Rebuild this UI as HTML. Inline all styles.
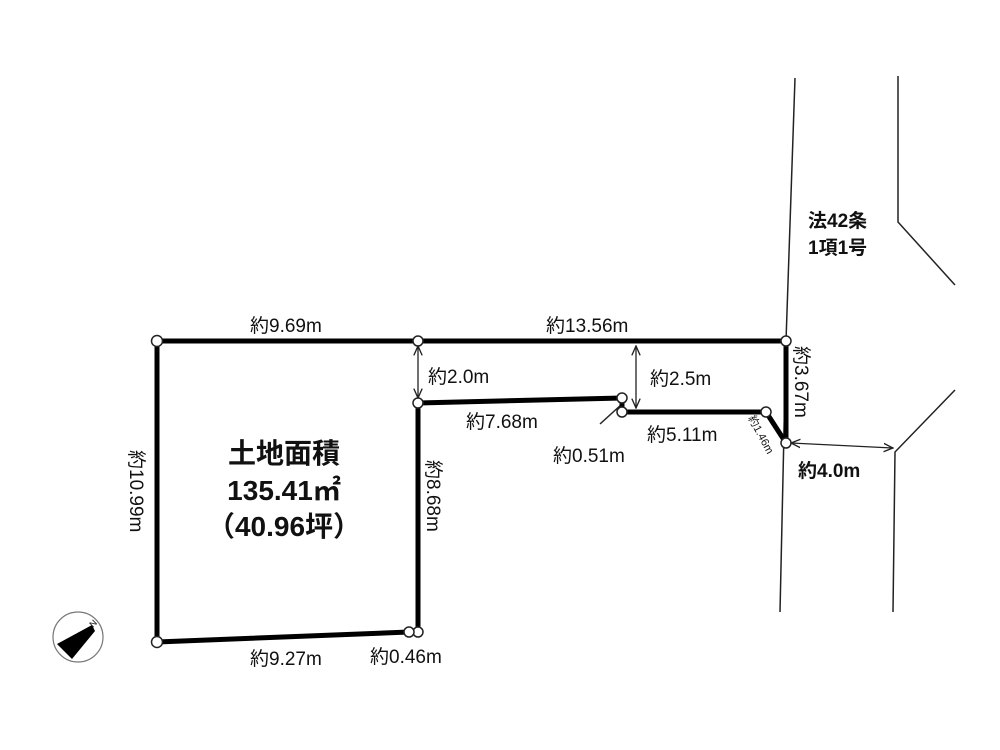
<!DOCTYPE html>
<html><head><meta charset="utf-8"><style>
html,body{margin:0;padding:0;background:#fff;width:1000px;height:750px;overflow:hidden}
text{font-family:"Liberation Sans","Noto Sans CJK JP",sans-serif;fill:#111}
</style></head><body>
<svg width="1000" height="750" viewBox="0 0 1000 750">
<defs><marker id="a" viewBox="0 0 10 10" refX="9" refY="5" markerWidth="8" markerHeight="8" orient="auto-start-reverse"><path d="M0,1 L9,5 L0,9" fill="none" stroke="#222" stroke-width="1.3"/></marker></defs>
<g stroke="#222" stroke-width="1.5" fill="none">
<path d="M795,78 L786,341 L780,612"/>
<path d="M898,76 L898,222 L955,285"/>
<path d="M955,390 L895,452 L893,612"/>
<path d="M622,404 L600,424"/>
</g>
<g stroke="#222" stroke-width="1.3" marker-start="url(#a)" marker-end="url(#a)">
<line x1="418" y1="346" x2="418" y2="398"/>
<line x1="636" y1="346" x2="636" y2="408"/>
<line x1="791" y1="443" x2="893" y2="448"/>
</g>
<path d="M157,341 L786,341 L786,443 L766,412 L622,412 L622,398 L418,403 L418,632 L409,632 L157,642 Z" fill="none" stroke="#000" stroke-width="5" stroke-linejoin="round"/>
<g fill="#fff" stroke="#222" stroke-width="1.5">
<circle cx="157" cy="341" r="5.5"/><circle cx="418" cy="341" r="5"/><circle cx="786" cy="341" r="5"/>
<circle cx="786" cy="443" r="5"/><circle cx="766" cy="412" r="5"/><circle cx="622" cy="398" r="5"/>
<circle cx="622" cy="412" r="5"/><circle cx="418" cy="403" r="5"/><circle cx="418" cy="632" r="5"/>
<circle cx="409" cy="632" r="5"/><circle cx="157" cy="642" r="5.5"/>
</g>
<circle cx="78" cy="637" r="25" fill="none" stroke="#777" stroke-width="1.2"/>
<path d="M57,644 L92,625 L95,631 L72,659 Z" fill="#000"/>
<text x="93" y="628" font-size="9" transform="rotate(-45 93 628)">N</text>
<g font-size="19">
<text x="250" y="332">約9.69m</text>
<text x="546" y="332">約13.56m</text>
<text x="428" y="383">約2.0m</text>
<text x="650" y="385">約2.5m</text>
<text x="466" y="428">約7.68m</text>
<text x="553" y="462">約0.51m</text>
<text x="647" y="441">約5.11m</text>
<text x="798" y="477" font-weight="bold">約4.0m</text>
<text x="250" y="665">約9.27m</text>
<text x="370" y="663">約0.46m</text>
<text x="808" y="227" font-weight="bold">法42条</text>
<text x="808" y="254" font-weight="bold">1項1号</text>
<text transform="translate(795,346) rotate(90)">約3.67m</text>
<text transform="translate(427,460) rotate(90)">約8.68m</text>
<text transform="translate(130,450) rotate(90)">約10.99m</text>
<text transform="translate(748,418) rotate(62)" font-size="11">約1.46m</text>
</g>
<g font-size="28" font-weight="bold" text-anchor="middle">
<text x="284" y="463">土地面積</text>
<text x="284" y="500">135.41㎡</text>
<text x="284" y="536">（40.96坪）</text>
</g>
</svg>
</body></html>
